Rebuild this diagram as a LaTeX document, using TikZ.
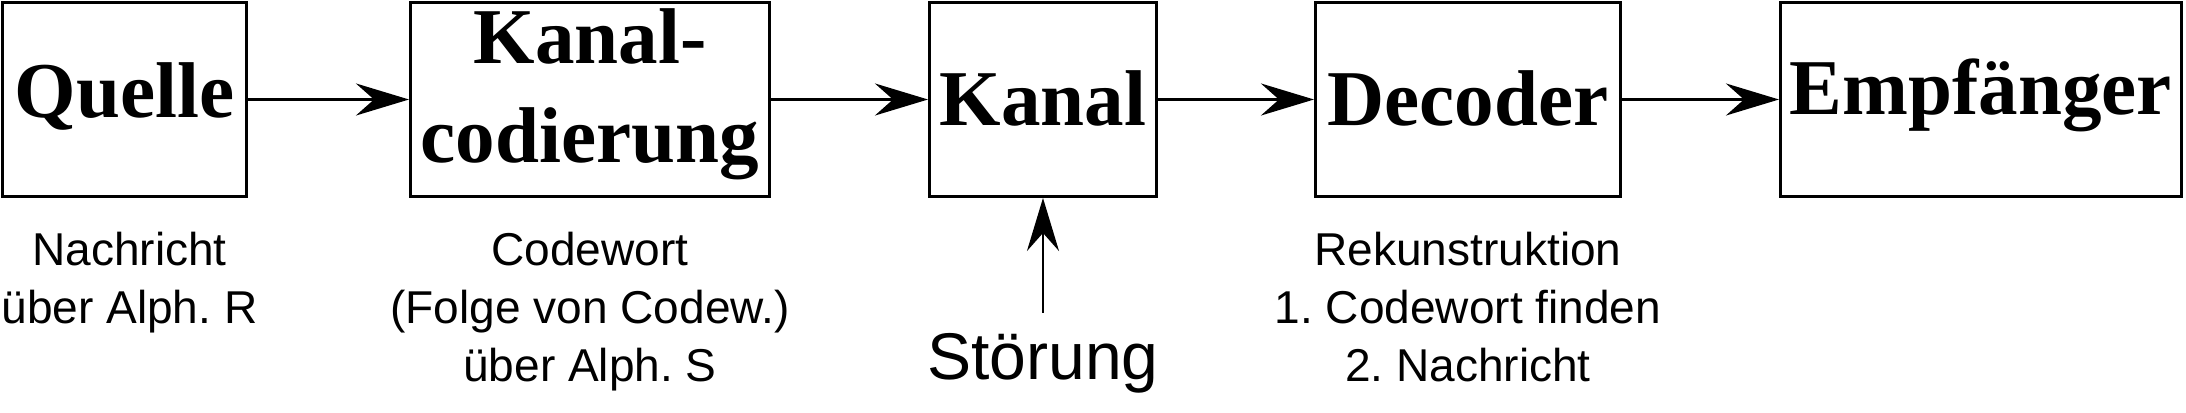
\documentclass[tikz,border=0pt]{standalone}
\usepackage{fontspec}
\setmainfont{Liberation Serif}
\setsansfont{Liberation Sans}
\usepackage{tikz}
\usetikzlibrary{positioning,arrows.meta}
\frenchspacing

\begin{document}
\begin{tikzpicture}[
    >={Stealth[length=0.53cm,width=0.32cm,inset=0.18cm]},
    every edge/.style={<-, draw, line width=0.85pt},
    block/.style={draw, line width=0.85pt, minimum height=1.94cm, inner sep=0pt,
        font=\bfseries\fontsize{22.5}{27.9}\selectfont, align=center,
        text height=0.52cm, text depth=0cm},
    note/.style={font=\sffamily\fontsize{13.1}{16.5}\selectfont, align=center, inner sep=0pt},
    node distance=1.57cm]

    \useasboundingbox (0,0) rectangle (21.86,-4.13);

    \node[block, minimum width=2.44cm, text height=0.37cm] (quelle) at (1.245,-0.995) {Quelle};
    \node[block, minimum width=3.59cm, text height=1.25cm, right=1.61cm of quelle] (kcod) {Kanal-\\codierung} edge (quelle);
    \node[block, minimum width=2.27cm, right=of kcod] (kanal) {Kanal} edge (kcod);
    \node[block, minimum width=3.05cm, right=1.56cm of kanal] (decoder) {Decoder} edge (kanal);
    \node[block, minimum width=4.01cm, text height=0.31cm, right=of decoder] (empf) {Empfänger} edge (decoder);

    % Erlaeuterungen unter den Bloecken
    \node[note, below=0.33cm of quelle, xshift=0.05cm] (nachricht) {Nachricht\\über Alph. R};
    \node[note, below=0.33cm of kcod] (codewort) {Codewort\\(Folge von Codew.)\\über Alph. S};
    \node[note, below=0.33cm of decoder] (rekon) {Rekunstruktion\\1. Codewort finden\\2. Nachricht};

    \node[below=1.15cm of kanal, inner sep=0.2cm, font=\sffamily\fontsize{18.8}{22}\selectfont] (stoerung) {Störung} edge[->] (kanal);

\end{tikzpicture}
\end{document}
